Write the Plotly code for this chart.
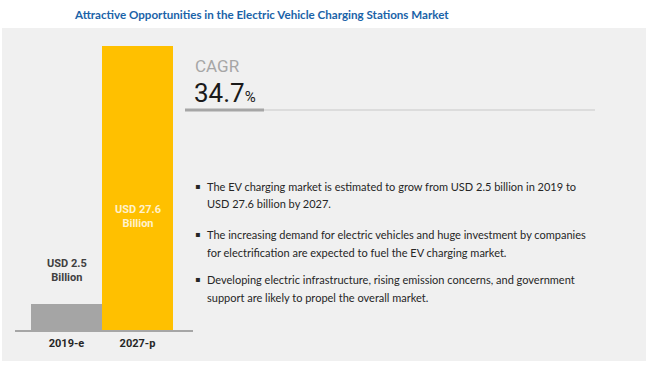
import plotly.graph_objects as go

W, H = 650, 366

categories = ["2019-e", "2027-p"]
values = [2.5, 27.6]
bar_labels = ["USD 2.5<br>Billion", "USD 27.6<br>Billion"]
title = "Attractive Opportunities in the Electric Vehicle Charging Stations Market"
cagr_label = "CAGR"
cagr_value = "34.7"
bullets = [
    ["The EV charging market is estimated to grow from USD 2.5 billion in 2019 to",
     "USD 27.6 billion by 2027."],
    ["The increasing demand for electric vehicles and huge investment by companies",
     "for electrification are expected to fuel the EV charging market."],
    ["Developing electric infrastructure, rising emission concerns, and government",
     "support are likely to propel the overall market."],
]

def px_x(p):
    return p / W

def px_y(p):
    return 1 - p / H

bar_colors = ["#a5a5a5", "#ffc000"]

fig = go.Figure()
fig.add_trace(go.Bar(
    x=categories, y=values,
    marker=dict(color=bar_colors, line=dict(width=0)),
    width=1.0,
    hoverinfo="skip",
))

# axis geometry
base_px = 330
top_val_px = 46
ppu = (base_px - top_val_px) / values[1]
ymax = 30
ytop_px = base_px - ymax * ppu

shapes = [
    dict(type="rect", xref="paper", yref="paper",
         x0=px_x(2), x1=px_x(646), y0=px_y(361), y1=px_y(28),
         fillcolor="#f0f0f0", line=dict(width=0), layer="below"),
    dict(type="line", xref="paper", yref="paper",
         x0=px_x(264), x1=px_x(595), y0=px_y(110), y1=px_y(110),
         line=dict(color="#c8c8c8", width=1)),
    dict(type="line", xref="paper", yref="paper",
         x0=px_x(185), x1=px_x(264), y0=px_y(110), y1=px_y(110),
         line=dict(color="#a6a6a6", width=3)),
]

annotations = [
    dict(text=f"<b>{title}</b>", xref="paper", yref="paper",
         x=px_x(261), y=px_y(14), showarrow=False, xanchor="center", yanchor="middle",
         font=dict(family="Lato", size=11.6, color="#1a63a8")),
    dict(text=cagr_label, xref="paper", yref="paper",
         x=px_x(193), y=px_y(66), showarrow=False, xanchor="left", yanchor="middle",
         font=dict(family="Roboto", size=17, color="#a6a6a6")),
    dict(text=f"{cagr_value}<span style='font-size:15px'>%</span>", xref="paper", yref="paper",
         x=px_x(192), y=px_y(93), showarrow=False, xanchor="left", yanchor="middle",
         font=dict(family="Roboto", size=26, color="#1a1a1a")),
    dict(text=f"<b>{bar_labels[0]}</b>", xref="x", yref="y",
         x=categories[0], y=(base_px - 270) / ppu, showarrow=False,
         xanchor="center", yanchor="middle",
         font=dict(family="Roboto", size=11, color="#404040")),
    dict(text=f"<b>{bar_labels[1]}</b>", xref="x", yref="y",
         x=categories[1], y=(base_px - 216) / ppu, showarrow=False,
         xanchor="center", yanchor="middle",
         font=dict(family="Roboto", size=11, color="#fff2cc")),
]

bullet_y = [186, 234, 279]
for b, y0 in zip(bullets, bullet_y):
    annotations.append(dict(text="▪", xref="paper", yref="paper",
                            x=px_x(197), y=px_y(y0), showarrow=False,
                            xanchor="center", yanchor="middle",
                            font=dict(family="DejaVu Sans", size=8, color="#262626")))
    for i, line in enumerate(b):
        annotations.append(dict(text=line, xref="paper", yref="paper",
                                x=px_x(205), y=px_y(y0 + 18 * i), showarrow=False,
                                xanchor="left", yanchor="middle",
                                font=dict(family="Lato", size=11, color="#262626")))

fig.update_layout(
    width=W, height=H,
    margin=dict(l=0, r=0, t=0, b=0),
    paper_bgcolor="white",
    plot_bgcolor="rgba(0,0,0,0)",
    showlegend=False,
    bargap=0,
    shapes=shapes,
    annotations=annotations,
    xaxis=dict(
        domain=[px_x(15), px_x(193)],
        range=[-0.5 - 16 / 71, -0.5 - 16 / 71 + 178 / 71],
        showline=True, linecolor="#a6a6a6", linewidth=1.5,
        showgrid=False, zeroline=False, ticks="",
        tickfont=dict(family="Roboto", size=11, color="#262626"),
        tickprefix="<b>", ticksuffix="</b>",
        ticklabelstandoff=2,
        fixedrange=True,
    ),
    yaxis=dict(
        domain=[1 - base_px / H, 1 - ytop_px / H],
        range=[0, ymax],
        visible=False, showgrid=False, zeroline=False, fixedrange=True,
    ),
)

fig.write_html(
    "out.html",
    config={"displayModeBar": False},
    post_script="document.body.style.margin='0';document.body.style.overflow='hidden';",
)
